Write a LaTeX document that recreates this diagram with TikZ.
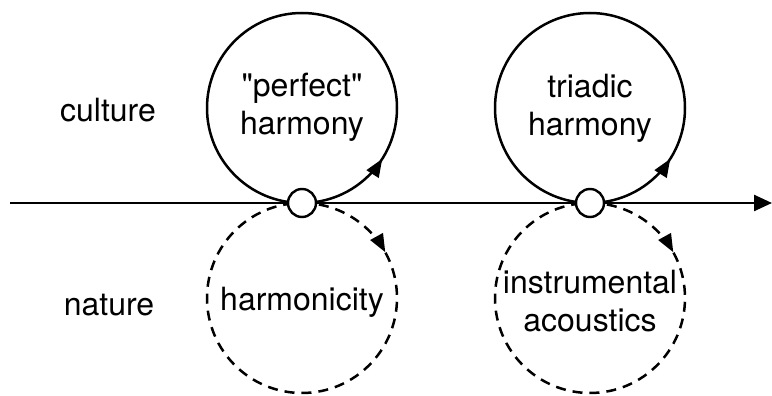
\documentclass[tikz,border=0pt]{standalone}
\usepackage{fontspec}
\newfontfamily\helv{TeX Gyre Heros}
\usetikzlibrary{arrows.meta,decorations.markings}
\pgfdeclarelayer{background}
\pgfsetlayers{background,main}
\begin{document}
\begin{tikzpicture}[x=1pt,y=1pt,
  junction/.style={circle,draw,fill=white,line width=2.4pt,minimum size=28pt,inner sep=0pt},
  txt/.style={font=\helv\fontsize{32}{38}\selectfont,align=center,inner sep=0pt},
  axis/.style={line width=2.5pt},
  solidloop/.style={line width=2.5pt,postaction={decorate,decoration={markings,
      mark=at position #1 with {\arrow{Triangle[length=18pt,width=14pt]}}}}},
  dashloop/.style={line width=2.5pt,dash pattern=on 10pt off 7pt,postaction={decorate,decoration={markings,
      mark=at position #1 with {\arrow{Triangle[length=18pt,width=14pt]}}}}}]
\useasboundingbox (0,0) rectangle (772,396);
% junctions
\node[junction] (j1) at (302,193) {};
\node[junction] (j2) at (590,193) {};
\coordinate (start) at (10,193);
\coordinate (end) at (772,193);
% labels
\node[txt] (culture) at (108,286) {culture};
\node[txt] (nature) at (109,91) {nature};
\node[txt] (perfect) at (302,289) {"perfect"\\harmony};
\node[txt] (triadic) at (590,288) {triadic\\harmony};
\node[txt] (harmonicity) at (302,94) {harmonicity};
\node[txt] (instr) at (590,95) {instrumental\\acoustics};
\begin{pgfonlayer}{background}
\draw[axis] (start) -- (j1);
\draw[axis] (j1) -- (j2);
\draw[axis,-{Triangle[length=18pt,width=16pt]}] (j2) -- (end);
\draw[solidloop=0.16] (j1.center) arc[start angle=-90,delta angle=360,radius=95];
\draw[solidloop=0.16] (j2.center) arc[start angle=-90,delta angle=360,radius=95];
\draw[dashloop=0.17] (j1.center) arc[start angle=90,delta angle=-360,radius=95];
\draw[dashloop=0.17] (j2.center) arc[start angle=90,delta angle=-360,radius=95];
\end{pgfonlayer}
\end{tikzpicture}
\end{document}
